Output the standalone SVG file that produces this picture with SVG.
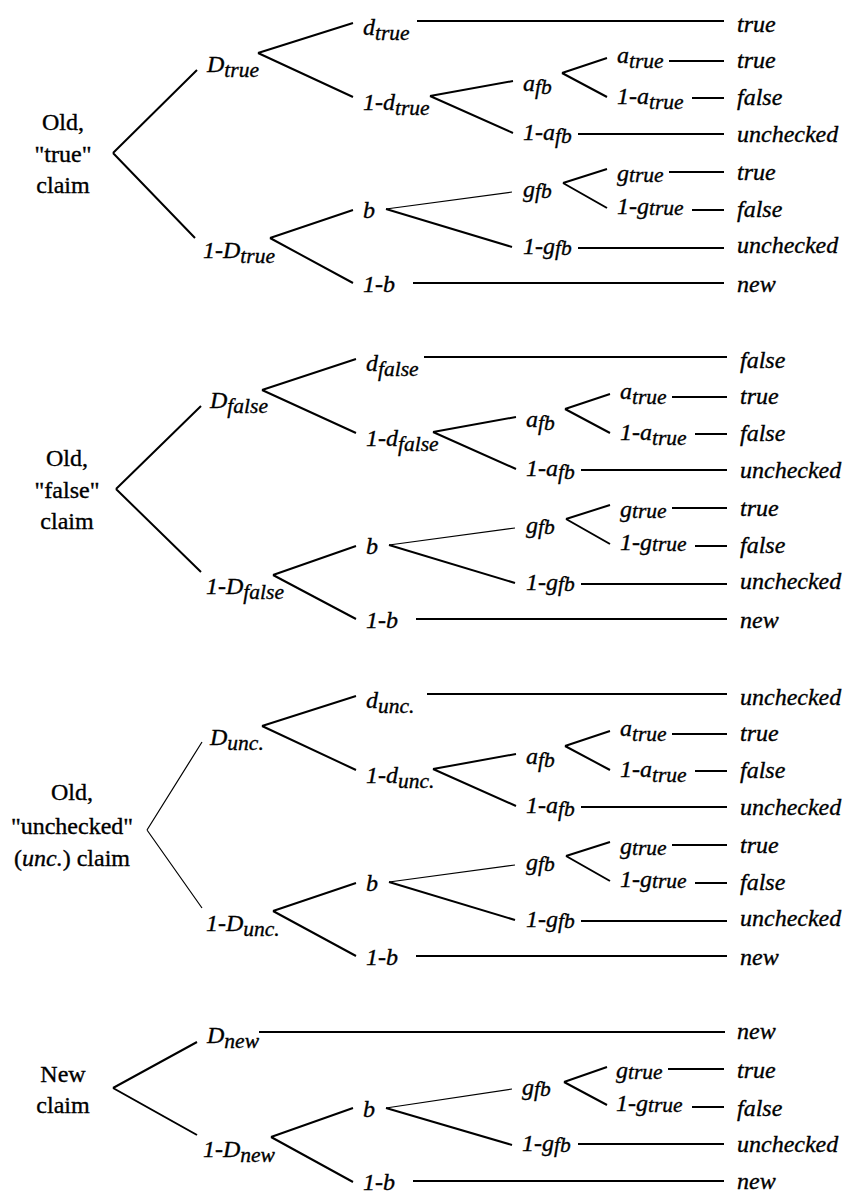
<svg xmlns="http://www.w3.org/2000/svg" width="846" height="1193" viewBox="0 0 846 1193" font-family="'Liberation Serif', 'Times New Roman', Times, 'DejaVu Serif', serif">
<style>
text{font-family:'Liberation Serif', 'Times New Roman', Times, 'DejaVu Serif', serif}
.lbl{font-size:24px;fill:#000;stroke:#000;stroke-width:0.35}
.it{font-style:italic}
.sub{font-size:21.5px}
.ln{stroke:#000;stroke-width:2;fill:none;stroke-linecap:butt}
.thin{stroke-width:1.2}
</style>
<rect width="846" height="1193" fill="#fff"/>

<!-- Tree 1: Old "true" claim -->
<g id="tree-true">
  <g id="t1-connectors" class="ln">
    <path d="M113,153 L197,70 M113,153 L195,238"/>
    <path d="M258,53 L353,23 M258,53 L353,97"/>
    <path d="M270,238 L353,210 M270,238 L353,283"/>
    <path d="M417,21 H724"/>
    <path d="M430,96 L513,81 M430,96 L513,133"/>
    <path d="M562,73 L607,58 M562,73 L607,97"/>
    <path d="M669,61 H724 M692,98 H724 M578,134 H724"/>
    <path class="thin" d="M386,209 L512,192"/>
    <path d="M386,209 L512,247"/>
    <path d="M563,183 L607,169 M563,183 L607,208"/>
    <path d="M669,172 H724 M692,210 H724 M578,248 H724 M413,283 H724"/>
  </g>
  <g id="t1-root"><text class="lbl" text-anchor="middle"><tspan x="63" y="130">Old,</tspan><tspan x="63" y="162">"true"</tspan><tspan x="63" y="193">claim</tspan></text></g>
  <g id="t1-D"><text class="lbl it" x="207" y="72">D<tspan class="sub" dy="5">true</tspan></text></g>
  <g id="t1-notD"><text class="lbl it" x="203" y="258">1-D<tspan class="sub" dy="5">true</tspan></text></g>
  <g id="t1-d"><text class="lbl it" x="363" y="35">d<tspan class="sub" dy="5">true</tspan></text></g>
  <g id="t1-notd"><text class="lbl it" x="363" y="110">1-d<tspan class="sub" dy="5">true</tspan></text></g>
  <g id="t1-afb"><text class="lbl it" x="523" y="91">a<tspan class="sub" dy="3">fb</tspan></text></g>
  <g id="t1-notafb"><text class="lbl it" x="523" y="140">1-a<tspan class="sub" dy="3">fb</tspan></text></g>
  <g id="t1-atrue"><text class="lbl it" x="617" y="63">a<tspan class="sub" dy="5">true</tspan></text></g>
  <g id="t1-notatrue"><text class="lbl it" x="617" y="104">1-a<tspan class="sub" dy="5">true</tspan></text></g>
  <g id="t1-b"><text class="lbl it" x="363" y="218">b</text></g>
  <g id="t1-notb"><text class="lbl it" x="363" y="292">1-b</text></g>
  <g id="t1-gfb"><text class="lbl it" x="523" y="197">g<tspan class="sub" dy="1">fb</tspan></text></g>
  <g id="t1-notgfb"><text class="lbl it" x="523" y="254">1-g<tspan class="sub" dy="1">fb</tspan></text></g>
  <g id="t1-gtrue"><text class="lbl it" x="617" y="181">g<tspan class="sub" dy="1">true</tspan></text></g>
  <g id="t1-notgtrue"><text class="lbl it" x="617" y="214">1-g<tspan class="sub" dy="1">true</tspan></text></g>
  <g id="t1-outcomes" class="lbl it">
    <text x="737" y="32">true</text>
    <text x="737" y="68">true</text>
    <text x="737" y="105">false</text>
    <text x="737" y="142">unchecked</text>
    <text x="737" y="180">true</text>
    <text x="737" y="217">false</text>
    <text x="737" y="253">unchecked</text>
    <text x="737" y="292">new</text>
  </g>
</g>

<!-- Tree 2: Old "false" claim -->
<g id="tree-false" transform="translate(3,336)">
  <g id="t2-connectors" class="ln">
    <path d="M113,153 L198,70 M113,153 L198,236"/>
    <path d="M259,54 L353,23 M259,54 L353,97"/>
    <path d="M270,239 L353,210 M270,239 L353,283"/>
    <path d="M421,21 H724"/>
    <path d="M430,96 L513,81 M430,96 L513,133"/>
    <path d="M562,73 L607,58 M562,73 L607,97"/>
    <path d="M669,61 H724 M692,98 H724 M578,134 H724"/>
    <path class="thin" d="M386,209 L512,192"/>
    <path d="M386,209 L512,247"/>
    <path d="M563,183 L607,169 M563,183 L607,208"/>
    <path d="M669,172 H724 M692,210 H724 M578,248 H724 M413,283 H724"/>
  </g>
  <g id="t2-root"><text class="lbl" text-anchor="middle"><tspan x="64" y="130">Old,</tspan><tspan x="64" y="162">"false"</tspan><tspan x="64" y="193">claim</tspan></text></g>
  <g id="t2-D"><text class="lbl it" x="207" y="72">D<tspan class="sub" dy="5">false</tspan></text></g>
  <g id="t2-notD"><text class="lbl it" x="203" y="258">1-D<tspan class="sub" dy="5">false</tspan></text></g>
  <g id="t2-d"><text class="lbl it" x="363" y="35">d<tspan class="sub" dy="5">false</tspan></text></g>
  <g id="t2-notd"><text class="lbl it" x="363" y="110">1-d<tspan class="sub" dy="5">false</tspan></text></g>
  <g id="t2-afb"><text class="lbl it" x="523" y="91">a<tspan class="sub" dy="3">fb</tspan></text></g>
  <g id="t2-notafb"><text class="lbl it" x="523" y="140">1-a<tspan class="sub" dy="3">fb</tspan></text></g>
  <g id="t2-atrue"><text class="lbl it" x="617" y="63">a<tspan class="sub" dy="5">true</tspan></text></g>
  <g id="t2-notatrue"><text class="lbl it" x="617" y="104">1-a<tspan class="sub" dy="5">true</tspan></text></g>
  <g id="t2-b"><text class="lbl it" x="363" y="218">b</text></g>
  <g id="t2-notb"><text class="lbl it" x="363" y="292">1-b</text></g>
  <g id="t2-gfb"><text class="lbl it" x="523" y="197">g<tspan class="sub" dy="1">fb</tspan></text></g>
  <g id="t2-notgfb"><text class="lbl it" x="523" y="254">1-g<tspan class="sub" dy="1">fb</tspan></text></g>
  <g id="t2-gtrue"><text class="lbl it" x="617" y="181">g<tspan class="sub" dy="1">true</tspan></text></g>
  <g id="t2-notgtrue"><text class="lbl it" x="617" y="214">1-g<tspan class="sub" dy="1">true</tspan></text></g>
  <g id="t2-outcomes" class="lbl it">
    <text x="737" y="32">false</text>
    <text x="737" y="68">true</text>
    <text x="737" y="105">false</text>
    <text x="737" y="142">unchecked</text>
    <text x="737" y="180">true</text>
    <text x="737" y="217">false</text>
    <text x="737" y="253">unchecked</text>
    <text x="737" y="292">new</text>
  </g>
</g>

<!-- Tree 3: Old "unchecked" claim -->
<g id="tree-unchecked" transform="translate(3,673)">
  <g id="t3-connectors" class="ln">
    <path class="thin" d="M144,157 L199,69 M144,157 L199,235"/>
    <path d="M259,53 L353,23 M259,53 L353,97"/>
    <path d="M270,238 L353,210 M270,238 L353,283"/>
    <path d="M424,21 H724"/>
    <path d="M430,96 L513,81 M430,96 L513,133"/>
    <path d="M562,73 L607,58 M562,73 L607,97"/>
    <path d="M669,61 H724 M692,98 H724 M578,134 H724"/>
    <path class="thin" d="M386,209 L512,192"/>
    <path d="M386,209 L512,247"/>
    <path d="M563,183 L607,169 M563,183 L607,208"/>
    <path d="M669,172 H724 M692,210 H724 M578,248 H724 M413,283 H724"/>
  </g>
  <g id="t3-root"><text class="lbl" text-anchor="middle"><tspan x="69" y="127">Old,</tspan><tspan x="69" y="161">"unchecked"</tspan><tspan x="69" y="193">(<tspan class="it">unc.</tspan>) claim</tspan></text></g>
  <g id="t3-D"><text class="lbl it" x="207" y="72">D<tspan class="sub" dy="5">unc.</tspan></text></g>
  <g id="t3-notD"><text class="lbl it" x="203" y="258">1-D<tspan class="sub" dy="5">unc.</tspan></text></g>
  <g id="t3-d"><text class="lbl it" x="363" y="35">d<tspan class="sub" dy="5">unc.</tspan></text></g>
  <g id="t3-notd"><text class="lbl it" x="363" y="110">1-d<tspan class="sub" dy="5">unc.</tspan></text></g>
  <g id="t3-afb"><text class="lbl it" x="523" y="91">a<tspan class="sub" dy="3">fb</tspan></text></g>
  <g id="t3-notafb"><text class="lbl it" x="523" y="140">1-a<tspan class="sub" dy="3">fb</tspan></text></g>
  <g id="t3-atrue"><text class="lbl it" x="617" y="63">a<tspan class="sub" dy="5">true</tspan></text></g>
  <g id="t3-notatrue"><text class="lbl it" x="617" y="104">1-a<tspan class="sub" dy="5">true</tspan></text></g>
  <g id="t3-b"><text class="lbl it" x="363" y="218">b</text></g>
  <g id="t3-notb"><text class="lbl it" x="363" y="292">1-b</text></g>
  <g id="t3-gfb"><text class="lbl it" x="523" y="197">g<tspan class="sub" dy="1">fb</tspan></text></g>
  <g id="t3-notgfb"><text class="lbl it" x="523" y="254">1-g<tspan class="sub" dy="1">fb</tspan></text></g>
  <g id="t3-gtrue"><text class="lbl it" x="617" y="181">g<tspan class="sub" dy="1">true</tspan></text></g>
  <g id="t3-notgtrue"><text class="lbl it" x="617" y="214">1-g<tspan class="sub" dy="1">true</tspan></text></g>
  <g id="t3-outcomes" class="lbl it">
    <text x="737" y="32">unchecked</text>
    <text x="737" y="68">true</text>
    <text x="737" y="105">false</text>
    <text x="737" y="142">unchecked</text>
    <text x="737" y="180">true</text>
    <text x="737" y="217">false</text>
    <text x="737" y="253">unchecked</text>
    <text x="737" y="292">new</text>
  </g>
</g>

<!-- Tree 4: New claim -->
<g id="tree-new" transform="translate(0,899)">
  <g id="t4-connectors" class="ln">
    <path d="M113,189 L197,143 M113,189 L197,236"/>
    <path d="M259,133 H725"/>
    <path d="M271,238 L353,209 M271,238 L353,283"/>
    <path class="thin" d="M386,209 L512,190"/>
    <path d="M386,209 L512,246"/>
    <path d="M564,183 L607,168 M564,183 L607,206"/>
    <path d="M668,170 H724 M692,208 H724 M578,245 H724 M413,282 H724"/>
  </g>
  <g id="t4-root"><text class="lbl" text-anchor="middle"><tspan x="63" y="183">New</tspan><tspan x="63" y="214">claim</tspan></text></g>
  <g id="t4-D"><text class="lbl it" x="207" y="144">D<tspan class="sub" dy="5">new</tspan></text></g>
  <g id="t4-notD"><text class="lbl it" x="203" y="258">1-D<tspan class="sub" dy="5">new</tspan></text></g>
  <g id="t4-b"><text class="lbl it" x="363" y="218">b</text></g>
  <g id="t4-notb"><text class="lbl it" x="363" y="291">1-b</text></g>
  <g id="t4-gfb"><text class="lbl it" x="522" y="196">g<tspan class="sub" dy="1">fb</tspan></text></g>
  <g id="t4-notgfb"><text class="lbl it" x="522" y="252">1-g<tspan class="sub" dy="1">fb</tspan></text></g>
  <g id="t4-gtrue"><text class="lbl it" x="616" y="179">g<tspan class="sub" dy="1">true</tspan></text></g>
  <g id="t4-notgtrue"><text class="lbl it" x="616" y="212">1-g<tspan class="sub" dy="1">true</tspan></text></g>
  <g id="t4-outcomes" class="lbl it">
    <text x="737" y="140">new</text>
    <text x="737" y="179">true</text>
    <text x="737" y="217">false</text>
    <text x="737" y="253">unchecked</text>
    <text x="737" y="290">new</text>
  </g>
</g>
</svg>
